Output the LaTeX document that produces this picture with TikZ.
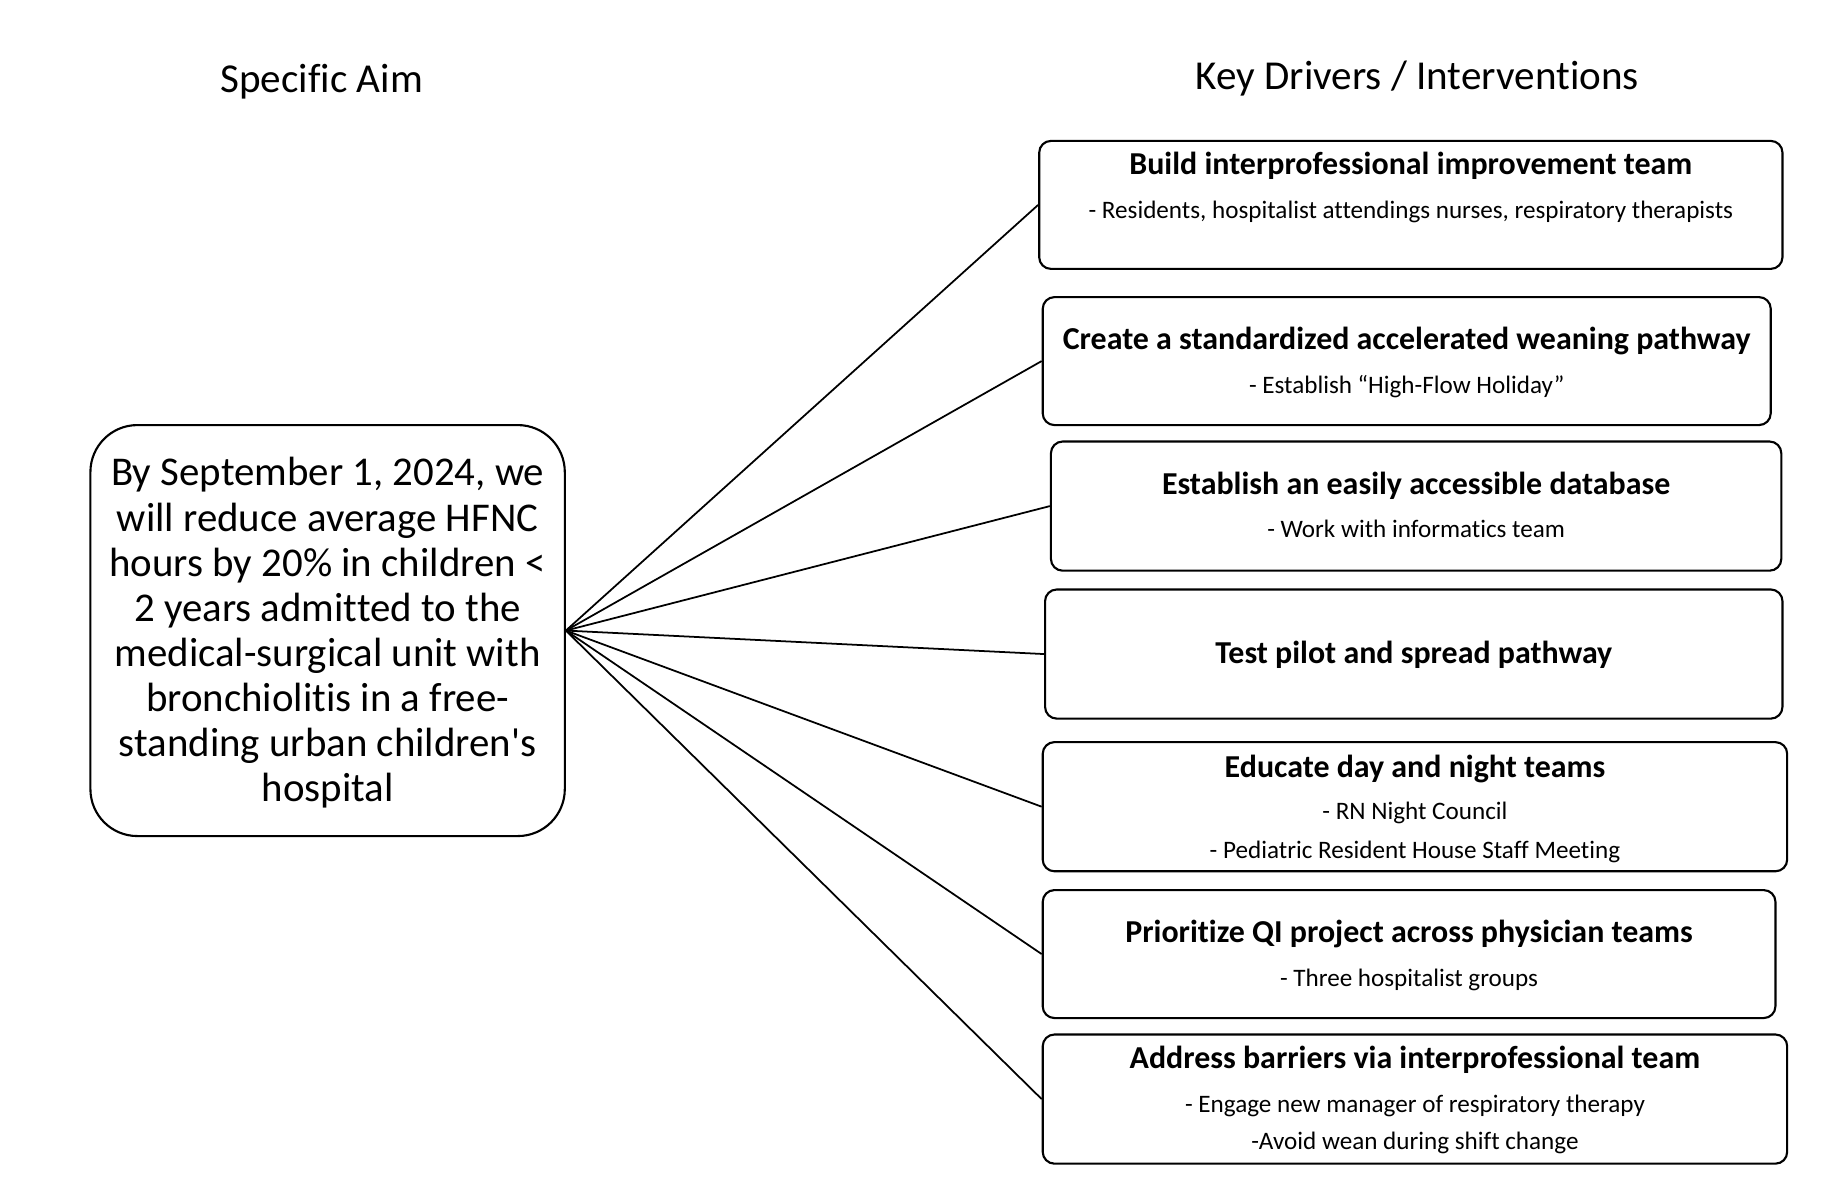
\documentclass[tikz,border=0pt]{standalone}
\usepackage{fontspec}
\setmainfont{Carlito}[Ligatures={TeXOff,CommonOff}]
\begin{document}
\begin{tikzpicture}[x=0.5pt,y=-0.5pt,
  drv/.style={draw=black, line width=0.9pt, rounded corners=5pt, inner sep=0pt},
  aimbox/.style={draw=black, line width=0.9pt, rounded corners=20pt, inner sep=0pt},
  ttl/.style={font=\fontsize{13.6}{16}\selectfont\bfseries, text height=0.7em, text depth=0.2em, inner sep=0pt},
  sub/.style={font=\fontsize{10.7}{13}\selectfont, text height=0.7em, text depth=0.2em, inner sep=0pt},
  hdr/.style={font=\fontsize{17.5}{21}\selectfont, text height=0.7em, text depth=0.2em, inner sep=0pt},
  link/.style={draw=black, line width=0.75pt}]
\useasboundingbox[fill=white] (0,0) rectangle (1567,1013);

\node[hdr] (h1) at (274,73.5) {Specific Aim};
\node[hdr] (h2) at (1207,71.5) {Key Drivers / Interventions};

\node[aimbox, minimum width=202pt, minimum height=175pt] (aim) at (279,537) {};
\node[align=center, inner sep=0pt, font=\fontsize{17.4}{19.2}\selectfont] (aimt) at (279,539)
 {By September 1, 2024, we\\ will reduce average HFNC\\ hours by 20\% in children <\\ 2 years admitted to the\\ medical-surgical unit with\\ bronchiolitis in a free-\\ standing urban children's\\ hospital};

\node[drv, minimum width=316.5pt, minimum height=54.5pt] (b1) at (1201.5,174.5) {};
\node[drv, minimum width=310pt, minimum height=54.5pt] (b2) at (1198,307.5) {};
\node[drv, minimum width=311pt, minimum height=55pt] (b3) at (1206,431) {};
\node[drv, minimum width=314pt, minimum height=55pt] (b4) at (1204,557) {};
\node[drv, minimum width=317pt, minimum height=55pt] (b5) at (1205,687) {};
\node[drv, minimum width=312pt, minimum height=54.5pt] (b6) at (1200,812.5) {};
\node[drv, minimum width=317pt, minimum height=55pt] (b7) at (1205,936) {};

\node[ttl] (t1) at (1201.5,144) {Build interprofessional improvement team};
\node[sub] (s1) at (1201.5,181) {- Residents, hospitalist attendings nurses, respiratory therapists};
\node[ttl] (t2) at (1198,293) {Create a standardized accelerated weaning pathway};
\node[sub] (s2) at (1198,330) {- Establish “High-Flow Holiday”};
\node[ttl] (t3) at (1206,416) {Establish an easily accessible database};
\node[sub] (s3) at (1206,453) {- Work with informatics team};
\node[ttl] (t4) at (1204,560) {Test pilot and spread pathway};
\node[ttl] (t5) at (1205,657) {Educate day and night teams};
\node[sub] (s5a) at (1205,693) {- RN Night Council};
\node[sub] (s5b) at (1205,726) {- Pediatric Resident House Staff Meeting};
\node[ttl] (t6) at (1200,798) {Prioritize QI project across physician teams};
\node[sub] (s6) at (1200,835) {- Three hospitalist groups};
\node[ttl] (t7) at (1205,905) {Address barriers via interprofessional team};
\node[sub] (s7a) at (1205,942) {- Engage new manager of respiratory therapy};
\node[sub] (s7b) at (1205,974) {-Avoid wean during shift change};

\foreach \b in {b1,b2,b3,b4,b5,b6,b7}
  \draw[link] (aim.east) -- (\b.west);
\end{tikzpicture}
\end{document}
